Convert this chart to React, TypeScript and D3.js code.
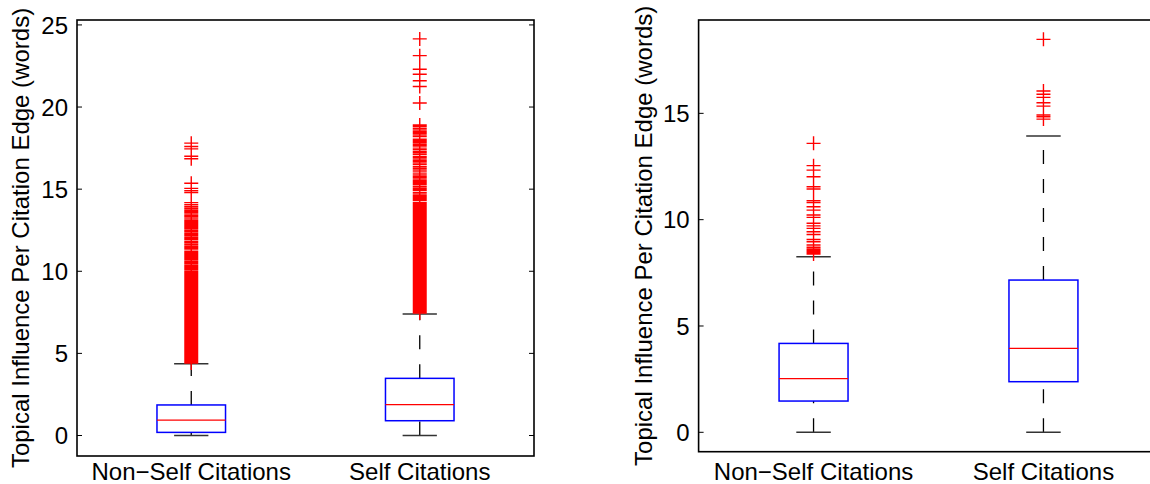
import * as d3 from "d3";

const categories = ["Non\u2212Self Citations", "Self Citations"];
const yLabel = "Topical Influence Per Citation Edge (words)";

// left panel: box statistics per category
const leftLower = [0, 0];
const leftQ1 = [0.19, 0.9];
const leftMedian = [0.94, 1.88];
const leftQ3 = [1.86, 3.48];
const leftUpper = [4.37, 7.4];
const leftTicks = [0, 5, 10, 15, 20, 25];

// left panel outliers (dense columns)
const leftNonSelfOut = [
  17.8, 17.6, 17.45, 17.0, 16.85,
  15.36, 15.05, 14.9, 14.79, 14.18, 14.05, 13.93, 13.83, 13.73, 13.64, 13.55, 13.43,
  13.36, 13.3, 13.18, 13.08, 13.0, 12.95, 12.88, 12.8, 12.75, 12.68, 12.62, 12.52,
  12.45, 12.4, 12.31, 12.22, 12.15, 12.05, 11.98, 11.91, 11.8, 11.72, 11.62, 11.52,
  11.46, 11.4, 11.3, 11.19, 11.1, 11.04, 10.98, 10.88, 10.79, 10.72, 10.68, 10.58,
  10.5, 10.45, 10.35, 10.28, 10.2, 10.12, 10.02, 9.95, 9.9, 9.82, 9.77, 9.68, 9.62, 9.57,
  9.49, 9.42, 9.36, 9.3, 9.22, 9.15, 9.09, 9.02, 8.95, 8.88, 8.82, 8.75, 8.69, 8.61,
  8.55, 8.48, 8.41, 8.35, 8.28, 8.21, 8.15, 8.08, 8.01, 7.95, 7.88, 7.82, 7.75, 7.68,
  7.62, 7.55, 7.48, 7.42, 7.35, 7.29, 7.22, 7.15, 7.09, 7.02, 6.95, 6.89, 6.82, 6.76,
  6.69, 6.62, 6.56, 6.49, 6.42, 6.36, 6.29, 6.23, 6.16, 6.09, 6.03, 5.96, 5.9, 5.83,
  5.76, 5.7, 5.63, 5.57, 5.5, 5.43, 5.37, 5.3, 5.24, 5.17, 5.1, 5.04, 4.97, 4.91,
  4.84, 4.78, 4.71, 4.65, 4.58, 4.52, 4.46, 4.41,
];
const leftSelfOut = [
  24.15, 23.13, 22.3, 22.0, 21.6, 21.25, 20.25,
  18.91, 18.82, 18.71, 18.6, 18.5, 18.4, 18.3, 18.2, 18.04, 17.95, 17.88, 17.8, 17.7,
  17.63, 17.5, 17.4, 17.28, 17.2, 17.1, 16.98, 16.9, 16.78, 16.7, 16.6, 16.5, 16.37,
  16.27, 16.17, 16.05, 15.92, 15.8, 15.74, 15.68, 15.56, 15.48, 15.4, 15.32, 15.26,
  15.15, 15.05, 14.98, 14.92, 14.79, 14.7, 14.6, 14.52, 14.45, 14.37, 14.3, 14.18,
  14.1, 14.05, 13.97, 13.9, 13.83, 13.76, 13.7, 13.63, 13.56, 13.5, 13.43, 13.37,
  13.31, 13.25, 13.18, 13.12, 13.06, 13.0, 12.94, 12.88, 12.81, 12.75, 12.68, 12.62,
  12.56, 12.5, 12.42, 12.36, 12.31, 12.25, 12.2, 12.12, 12.06, 12.01, 11.95, 11.9,
  11.82, 11.76, 11.7, 11.64, 11.6, 11.52, 11.46, 11.4, 11.34, 11.28, 11.2, 11.15,
  11.1, 11.05, 11.0, 10.92, 10.86, 10.79, 10.73, 10.68, 10.62, 10.58,
  10.5, 10.43, 10.36, 10.3, 10.23, 10.16, 10.1, 10.03, 9.96, 9.9, 9.83, 9.77, 9.7,
  9.63, 9.57, 9.5, 9.44, 9.37, 9.3, 9.24, 9.17, 9.11, 9.04, 8.97, 8.91, 8.84, 8.78,
  8.71, 8.64, 8.58, 8.51, 8.45, 8.38, 8.31, 8.25, 8.18, 8.12, 8.05, 7.98, 7.92, 7.85,
  7.79, 7.72, 7.65, 7.59, 7.52, 7.46,
];

// right panel: box statistics per category
const rightLower = [0, 0];
const rightQ1 = [1.47, 2.38];
const rightMedian = [2.52, 3.95];
const rightQ3 = [4.18, 7.16];
const rightUpper = [8.26, 13.94];
const rightTicks = [0, 5, 10, 15];

const rightNonSelfOut = [
  13.59, 12.54, 12.33, 12.02, 11.55, 11.44, 10.89, 10.8, 10.61, 10.45, 10.22, 10.11,
  9.83, 9.71, 9.59, 9.43, 9.3, 9.07, 8.96, 8.81, 8.7, 8.62, 8.57, 8.5, 8.44, 8.38,
];
const rightSelfOut = [18.48, 16.05, 15.9, 15.75, 15.5, 15.34, 14.92, 14.84, 14.73];

const font = "'Liberation Sans', Arial, Helvetica, sans-serif";
const fontSize = 24;

const BoxPanel = ({ left, right, top, bottom, yDomain, yTicks, lower, q1, median, q3, upper, outliers, labelX }) => {
  const x = d3.scaleLinear().domain([0.5, 2.5]).range([left, right]);
  const y = d3.scaleLinear().domain(yDomain).range([bottom, top]);
  const halfBox = x(0.65) - x(0.5); // 0.15 units
  const halfCap = halfBox / 2;
  const m = 7; // marker arm

  return (
    <g>
      {categories.map((c, i) => {
        const cx = x(i + 1);
        return (
          <g key={c}>
            {/* whiskers, drawn from low to high like matlab */}
            <line x1={cx} x2={cx} y1={y(lower[i])} y2={y(q1[i])} stroke="#000" strokeWidth={1.3} strokeDasharray="14,15" />
            <line x1={cx} x2={cx} y1={y(q3[i])} y2={y(upper[i])} stroke="#000" strokeWidth={1.3} strokeDasharray="14,15" />
            <line x1={cx - halfCap} x2={cx + halfCap} y1={y(lower[i])} y2={y(lower[i])} stroke="#333" strokeWidth={1.5} />
            <line x1={cx - halfCap} x2={cx + halfCap} y1={y(upper[i])} y2={y(upper[i])} stroke="#333" strokeWidth={1.5} />
            <rect
              x={cx - halfBox}
              y={y(q3[i])}
              width={halfBox * 2}
              height={y(q1[i]) - y(q3[i])}
              fill="none"
              stroke="#0000ff"
              strokeWidth={1.5}
            />
            <line x1={cx - halfBox} x2={cx + halfBox} y1={y(median[i])} y2={y(median[i])} stroke="#ff0000" strokeWidth={1.3} />
            <path
              d={outliers[i].map((v) => `M${cx - m},${y(v)}H${cx + m}M${cx},${y(v) - m}V${y(v) + m}`).join("")}
              stroke="#ff0000"
              strokeWidth={1.4}
              fill="none"
            />
          </g>
        );
      })}

      {/* frame and ticks */}
      <rect x={left} y={top} width={right - left} height={bottom - top} fill="none" stroke="#000" strokeWidth={1.6} />
      {yTicks.map((t) => (
        <g key={t}>
          <line x1={left} x2={left + 5} y1={y(t)} y2={y(t)} stroke="#000" />
          <line x1={right - 5} x2={right} y1={y(t)} y2={y(t)} stroke="#000" />
          <text x={left - 9} y={y(t)} dy="0.36em" textAnchor="end" fontSize={fontSize} fontFamily={font}>
            {t}
          </text>
        </g>
      ))}
      {categories.map((c, i) => (
        <text key={c} x={x(i + 1)} y={480} textAnchor="middle" fontSize={fontSize} fontFamily={font}>
          {c}
        </text>
      ))}
      <text
        transform={`translate(${labelX},${(top + bottom) / 2}) rotate(-90)`}
        textAnchor="middle"
        fontSize={fontSize}
        fontFamily={font}
      >
        {yLabel}
      </text>
    </g>
  );
};

export default function App() {
  return (
    <svg width={1150} height={484} style={{ position: "absolute", left: 0, top: 0, background: "#fff" }}>
      <rect width={1150} height={484} fill="#fff" />
      <BoxPanel
        left={77}
        right={534}
        top={20}
        bottom={456}
        yDomain={[-1.248, 25.3]}
        yTicks={leftTicks}
        lower={leftLower}
        q1={leftQ1}
        median={leftMedian}
        q3={leftQ3}
        upper={leftUpper}
        outliers={[leftNonSelfOut, leftSelfOut]}
        labelX={29}
      />
      <BoxPanel
        left={698.6}
        right={1158.4}
        top={20}
        bottom={451.7}
        yDomain={[-0.912, 19.39]}
        yTicks={rightTicks}
        lower={rightLower}
        q1={rightQ1}
        median={rightMedian}
        q3={rightQ3}
        upper={rightUpper}
        outliers={[rightNonSelfOut, rightSelfOut]}
        labelX={652}
      />
    </svg>
  );
}
